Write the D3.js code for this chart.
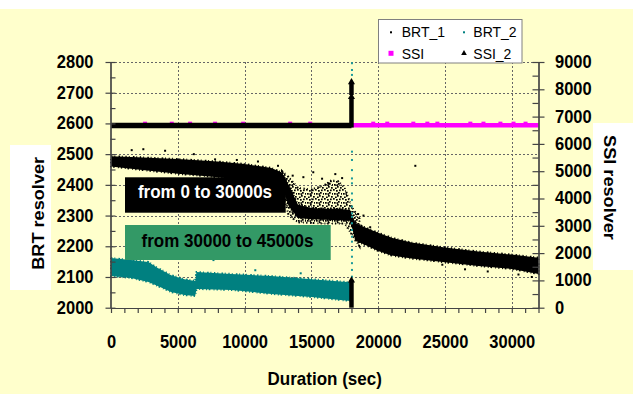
<!DOCTYPE html>
<html>
<head>
<meta charset="utf-8">
<script src="https://cdn.jsdelivr.net/npm/d3@7"></script>
<style>
  html, body { margin: 0; padding: 0; background: #FFFFCC; }
  svg { display: block; }
</style>
</head>
<body>
<svg id="chart" width="633" height="394"></svg>
<script>
// ---- Tick values ----
const xTicks = [0, 5000, 10000, 15000, 20000, 25000, 30000];
const xMinorTicks = d3.range(0, 32001, 1000);
const leftTicks = [2000, 2100, 2200, 2300, 2400, 2500, 2600, 2700, 2800];
const leftMinorTicks = [2050, 2150, 2250, 2350, 2450, 2550, 2650, 2750];
const rightTicks = [0, 1000, 2000, 3000, 4000, 5000, 6000, 7000, 8000, 9000];
const rightMinorTicks = [500, 1500, 2500, 3500, 4500, 5500, 6500, 7500, 8500];

// ---- BRT_1 (left axis): dense core of the black point cloud ----
const brt1Time = [0, 2000, 5000, 8000, 10000, 12000, 12800, 13300, 14000, 15000, 16000, 17000, 17900,
                  18300, 19000, 20000, 21000, 22500, 25000, 27500, 30000, 32000];
const brt1High = [2493, 2490, 2484, 2476, 2468, 2455, 2440, 2400, 2335, 2325, 2322, 2322, 2318,
                  2275, 2262, 2244, 2228, 2212, 2196, 2183, 2173, 2163];
const brt1Low  = [2460, 2450, 2436, 2425, 2415, 2405, 2395, 2330, 2292, 2288, 2286, 2285, 2283,
                  2218, 2205, 2185, 2170, 2160, 2148, 2136, 2126, 2110];

// BRT_1: sparse scatter zone around the transition
const brt1SparseTime = [12800, 13300, 14000, 15000, 16000, 16500, 17000, 17500, 18000, 18600];
const brt1SparseHigh = [2445, 2425, 2390, 2385, 2400, 2415, 2412, 2390, 2330, 2290];
const brt1SparseLow  = [2390, 2300, 2278, 2276, 2274, 2274, 2274, 2274, 2240, 2200];

// BRT_1: isolated points
const brt1OutTime  = [1550, 2420, 4050, 6200, 7790, 9420, 11000, 12500, 13600, 14400, 15140, 15800, 16290,
                      16790, 17300, 18500, 18900, 19400, 22780, 24800, 26500, 28200, 30500, 31500];
const brt1OutValue = [2513, 2516, 2511, 2500, 2483, 2481, 2476, 2462, 2430, 2425, 2441, 2420, 2405,
                      2435, 2422, 2305, 2300, 2262, 2462, 2140, 2125, 2118, 2108, 2100];

// ---- BRT_2 (left axis): teal point cloud ----
const brt2Time = [0, 1500, 2800, 3500, 4500, 5500, 6300, 6400, 9000, 12000, 15000, 17900];
const brt2High = [2162, 2155, 2149, 2129, 2106, 2093, 2087, 2116, 2110, 2103, 2093, 2083];
const brt2Low  = [2103, 2097, 2084, 2071, 2051, 2041, 2038, 2061, 2058, 2045, 2035, 2022];

// BRT_2: readings taken at the 18000 s switch-over
const brt2SwitchValue = [2796, 2774, 2758, 2736, 2508, 2481, 2448, 2421, 2405, 2372, 2351, 2329,
                         2307, 2296, 2275, 2253, 2231, 2215, 2188, 2166, 2145, 2123, 2101];
const brt2OutTime  = [2100, 7670, 10800, 14200];
const brt2OutValue = [2170, 2155, 2122, 2112];

// ---- SSI (right axis, magenta) ----
const ssiTime  = [0, 32000];
const ssiValue = [6680, 6680];
const ssiBumpTime = [2550, 4550, 5920, 7790, 9890, 13410, 14910, 19630, 20680, 22630, 23680,
                     24430, 26900, 27880, 29150, 30130, 31030];
const ssiBumpValue = 6760;

// ---- SSI_2 (right axis, black triangles) ----
const ssi2Time  = [0, 18000];
const ssi2Value = [6670, 6670];
const switchTime = 18000;
const ssi2SwitchRanges = [[6600, 7720], [7790, 8260], [0, 1000]];

// ---- Layout ----
const W = 633, H = 394;
const x  = d3.scaleLinear().domain([0, 32000]).range([111, 538.5]);
const yL = d3.scaleLinear().domain([2000, 2800]).range([307.7, 62]);
const yR = d3.scaleLinear().domain([0, 9000]).range([307.7, 62]);

const FONT = "'Liberation Sans', Arial, Helvetica, sans-serif";
const STRETCH = 1.1;

const svg = d3.select("#chart");

// speckle texture for thinly populated parts of the cloud
const defs = svg.append("defs");
const pat = defs.append("pattern").attr("id", "speckle").attr("patternUnits", "userSpaceOnUse")
  .attr("width", 9).attr("height", 9);
[[0, 0], [3, 1], [6, 0.5], [5, 3], [1, 4], [8, 4], [4, 6], [7, 7], [2, 7.5], [3.5, 4.2]].forEach(([px, py]) =>
  pat.append("rect").attr("x", px).attr("y", py).attr("width", 1.7).attr("height", 1.7).attr("fill", "#000"));

svg.append("rect").attr("width", W).attr("height", H).attr("fill", "#FFFFCC");
svg.append("rect").attr("width", W).attr("height", 9).attr("fill", "#FFFFFF");

// text helper with slight vertical stretch
function txt(parent, tx, ty, s, o = {}) {
  const g = parent.append("g")
    .attr("transform", `translate(${tx},${ty}) scale(1,${STRETCH})` + (o.rotate ? ` rotate(${o.rotate})` : ""));
  return g.append("text")
    .attr("x", 0).attr("y", 0)
    .attr("text-anchor", o.anchor || "start")
    .attr("font-family", FONT)
    .attr("font-size", o.size || 16.5)
    .attr("font-weight", o.weight || "bold")
    .attr("fill", o.fill || "#000")
    .text(s);
}

// ---- Gridlines ----
const grid = svg.append("g").attr("stroke", "#666").attr("stroke-width", 1)
  .attr("stroke-dasharray", "2,2").attr("shape-rendering", "crispEdges");
grid.selectAll("line.h").data(leftTicks.filter(d => d > 2000)).join("line")
  .attr("x1", x(0)).attr("x2", x(32000))
  .attr("y1", d => Math.round(yL(d)) + 0.5).attr("y2", d => Math.round(yL(d)) + 0.5);
grid.selectAll("line.v").data(xTicks.filter(d => d > 0)).join("line")
  .attr("x1", d => Math.round(x(d)) + 0.5).attr("x2", d => Math.round(x(d)) + 0.5)
  .attr("y1", yL(2800)).attr("y2", yL(2000));

// ---- BRT_1 ----
const band = (ts, lo, hi, ys) => d3.area()
  .x((d, i) => x(ts[i])).y0((d, i) => ys(lo[i])).y1((d, i) => ys(hi[i]))(ts);
// fill plus a broken outline so the cloud edge looks scattered
function cloud(d, color, fill) {
  svg.append("path").attr("d", d).attr("fill", fill || color);
  svg.append("path").attr("d", d).attr("fill", "none").attr("stroke", color)
    .attr("stroke-width", 2).attr("stroke-dasharray", "1.3,2.1,0.9,3.2,1.6,1.7,1,2.6");
}

cloud(band(brt1SparseTime, brt1SparseLow, brt1SparseHigh, yL), "#000", "url(#speckle)");
cloud(band(brt1Time, brt1Low, brt1High, yL), "#000");
svg.append("g").selectAll("rect").data(brt1OutTime).join("rect")
  .attr("x", (d) => x(d) - 1).attr("y", (d, i) => yL(brt1OutValue[i]) - 1)
  .attr("width", 2).attr("height", 2).attr("fill", "#000");

// ---- BRT_2 ----
cloud(band(brt2Time, brt2Low, brt2High, yL), "#008080");
svg.append("g").selectAll("rect").data(brt2SwitchValue).join("rect")
  .attr("x", x(switchTime) - 0.5).attr("y", d => yL(d) - 1)
  .attr("width", 2).attr("height", 2).attr("fill", "#1A9A9A");
svg.append("g").selectAll("rect").data(brt2OutTime).join("rect")
  .attr("x", d => x(d) - 1).attr("y", (d, i) => yL(brt2OutValue[i]) - 1)
  .attr("width", 2).attr("height", 2).attr("fill", "#008080");

// ---- SSI ----
const lineR = d3.line().x((d, i) => x(d[0])).y(d => yR(d[1]));
svg.append("path").attr("d", lineR(ssiTime.map((t, i) => [t, ssiValue[i]])))
  .attr("fill", "none").attr("stroke", "#FF00FF").attr("stroke-width", 4.5);
svg.append("g").selectAll("rect").data(ssiBumpTime).join("rect")
  .attr("x", d => x(d) - 2).attr("y", yR(ssiBumpValue) - 1.5)
  .attr("width", 4).attr("height", 3).attr("fill", "#FF00FF");

// ---- SSI_2 ----
svg.append("path").attr("d", lineR(ssi2Time.map((t, i) => [t, ssi2Value[i]])))
  .attr("fill", "none").attr("stroke", "#000").attr("stroke-width", 5.5);
const sw = svg.append("g");
sw.selectAll("line").data(ssi2SwitchRanges).join("line")
  .attr("x1", x(switchTime)).attr("x2", x(switchTime))
  .attr("y1", d => yR(d[0])).attr("y2", d => yR(d[1]))
  .attr("stroke", "#000").attr("stroke-width", 4.5);
sw.selectAll("path").data(ssi2SwitchRanges).join("path")
  .attr("d", d3.symbol(d3.symbolTriangle, 22))
  .attr("transform", d => `translate(${x(switchTime)},${yR(d[1])})`)
  .attr("fill", "#000");

// ---- Axes ----
const axisColor = "#444";
function styleAxis(g) {
  g.selectAll(".domain").attr("stroke", axisColor).attr("stroke-width", 1.2);
  g.selectAll(".tick line").attr("stroke", axisColor).attr("stroke-width", 1.2);
  g.selectAll("text").attr("font-family", FONT).attr("font-size", 16.5)
    .attr("font-weight", "bold").attr("fill", "#000");
}

// left
const gL = svg.append("g").attr("transform", "translate(110.5,0)")
  .call(d3.axisLeft(yL).tickValues(leftTicks).tickSize(5).tickSizeOuter(0).tickPadding(12).tickFormat(d3.format("d")));
gL.selectAll(".tick line").attr("x1", 5);
styleAxis(gL);
gL.selectAll(".tick text").attr("transform", `scale(1,${STRETCH})`).attr("dy", "0.3em");
const gLm = svg.append("g").attr("transform", "translate(110.5,0)")
  .call(d3.axisLeft(yL).tickValues(leftMinorTicks).tickSize(-5).tickSizeOuter(0).tickFormat(""));
styleAxis(gLm);

// right
const gR = svg.append("g").attr("transform", "translate(538.5,0)")
  .call(d3.axisRight(yR).tickValues(rightTicks).tickSize(6).tickSizeOuter(0).tickPadding(10.5).tickFormat(d3.format("d")));
gR.selectAll(".tick line").attr("x1", -6);
styleAxis(gR);
gR.selectAll(".tick text").attr("transform", `scale(1,${STRETCH})`).attr("dy", "0.3em");
const gRm = svg.append("g").attr("transform", "translate(538.5,0)")
  .call(d3.axisRight(yR).tickValues(rightMinorTicks).tickSize(-6).tickSizeOuter(0).tickFormat(""));
styleAxis(gRm);

// bottom
const gB = svg.append("g").attr("transform", "translate(0,308)")
  .call(d3.axisBottom(x).tickValues(xMinorTicks).tickSize(5).tickSizeOuter(0).tickFormat(""));
styleAxis(gB);
const gBl = svg.append("g").attr("transform", "translate(0,308)")
  .call(d3.axisBottom(x).tickValues(xTicks).tickSize(0).tickSizeOuter(0).tickFormat(d3.format("d")));
gBl.select(".domain").remove();
styleAxis(gBl);
gBl.selectAll(".tick text").attr("dy", null).attr("y", 36.4).attr("transform", `scale(1,${STRETCH})`);

// ---- Axis titles ----
txt(svg, 324.7, 384.5, "Duration (sec)", { anchor: "middle", size: 17 });
svg.append("rect").attr("x", 10).attr("y", 145).attr("width", 41).attr("height", 145).attr("fill", "#FFFFFF");
txt(svg, 43.5, 213.3, "BRT resolver", { anchor: "middle", rotate: -90 });
svg.append("rect").attr("x", 593).attr("y", 123).attr("width", 40).attr("height", 147).attr("fill", "#FFFFFF");
txt(svg, 603.5, 187.5, "SSI resolver", { anchor: "middle", rotate: 90 });

// ---- Annotation boxes ----
svg.append("rect").attr("x", 125).attr("y", 177.3).attr("width", 160.7).attr("height", 35.4).attr("fill", "#000");
txt(svg, 205, 198.3, "from 0 to 30000s", { anchor: "middle", size: 17, fill: "#FFFFFF" });
svg.append("rect").attr("x", 125).attr("y", 225).attr("width", 205.7).attr("height", 35).attr("fill", "#339966");
txt(svg, 227.5, 246.7, "from 30000 to 45000s", { anchor: "middle", size: 17, fill: "#000" });

// ---- Legend ----
const lg = svg.append("g");
lg.append("rect").attr("x", 378.5).attr("y", 19.5).attr("width", 143.5).attr("height", 43.5)
  .attr("fill", "#FFFFFF").attr("stroke", "#808080").attr("stroke-width", 1);
const legendItems = [
  { name: "BRT_1", col: 0, row: 0, mark: "dot", color: "#000" },
  { name: "BRT_2", col: 1, row: 0, mark: "dot", color: "#008080" },
  { name: "SSI",   col: 0, row: 1, mark: "square", color: "#FF00FF" },
  { name: "SSI_2", col: 1, row: 1, mark: "triangle", color: "#000" }
];
legendItems.forEach(it => {
  const mx = it.col ? 464 : 391;
  const my = it.row ? 53.3 : 32.3;
  if (it.mark === "dot") {
    lg.append("rect").attr("x", mx - 1).attr("y", my - 1).attr("width", 2).attr("height", 2).attr("fill", it.color);
  } else if (it.mark === "square") {
    lg.append("rect").attr("x", mx - 2.5).attr("y", my - 2.5).attr("width", 5).attr("height", 5).attr("fill", it.color);
  } else {
    lg.append("path").attr("d", d3.symbol(d3.symbolTriangle, 14)).attr("transform", `translate(${mx},${my})`).attr("fill", it.color);
  }
  txt(lg, it.col ? 473.3 : 401.7, it.row ? 59.3 : 37.3, it.name, { size: 14, weight: "normal" });
});
</script>
</body>
</html>
